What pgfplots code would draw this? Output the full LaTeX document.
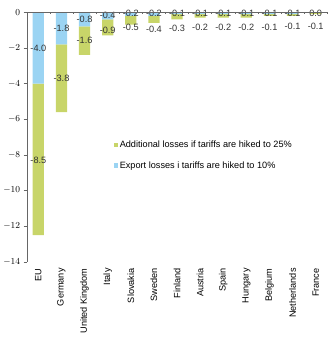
\documentclass[border=0pt]{standalone}
\usepackage{pgfplots}
\pgfplotsset{compat=1.18}
\usepackage{fontspec}
\setmainfont{Liberation Sans}
\definecolor{cblue}{RGB}{155,212,243}
\definecolor{cgreen}{RGB}{200,213,105}
\definecolor{ctext}{RGB}{50,50,50}
\tikzset{lbl/.style={font=\fontsize{9}{10}\selectfont, text=ctext, inner sep=0pt}}
\begin{document}
\begin{tikzpicture}
\begin{axis}[
  set layers,
  scale only axis, width=295pt, height=245pt,
  ybar stacked, bar width=11pt,
  xmin=-0.5, xmax=12.5, ymin=-14, ymax=0,
  xtick={0,1,2,3,4,5,6,7,8,9,10,11,12},
  xticklabels={EU,Germany,United Kingdom,Italy,Slovakia,Sweden,Finland,Austria,Spain,Hungary,Belgium,Netherlands,France},
  xticklabel style={rotate=90, anchor=east, font=\fontsize{9}{10}\selectfont},
  axis y line*=left,
  axis x line*=bottom,
  x axis line style={draw=none},
  y axis line style={gray!80!black},
  x tick style={draw=none},
  y tick style={gray!80!black},
  ytick={0,-2,-4,-6,-8,-10,-12,-14},
  tick align=outside,
  major tick length=3pt,
  yticklabel style={font=\fontsize{9}{10}\selectfont},
  legend style={draw=none, fill=none, at={(axis cs:3.25,-7.1)}, anchor=north west,
     font=\fontsize{9}{10}\selectfont, row sep=8pt, inner sep=0pt},
  legend cell align=left,
  reverse legend,
  clip=false,
]
\addplot[on layer=axis background, fill=cblue, draw=none, legend image code/.code={\fill[cblue] (0pt,-2pt) rectangle (4pt,2pt);}] coordinates {(0,-4.0) (1,-1.8) (2,-0.8) (3,-0.4) (4,-0.2) (5,-0.2) (6,-0.1) (7,-0.1) (8,-0.1) (9,-0.1) (10,-0.1) (11,-0.1) (12,0.0)};
\addlegendentry{Export losses i tariffs are hiked to 10\%}
\addplot[on layer=axis background, fill=cgreen, draw=none, legend image code/.code={\fill[cgreen] (0pt,-2pt) rectangle (4pt,2pt);}] coordinates {(0,-8.5) (1,-3.8) (2,-1.6) (3,-0.9) (4,-0.5) (5,-0.4) (6,-0.3) (7,-0.2) (8,-0.2) (9,-0.2) (10,-0.1) (11,-0.1) (12,-0.1)};
\addlegendentry{Additional losses if tariffs are hiked to 25\%}
\path (rel axis cs:0,1) ++(0pt,12pt);
\path (rel axis cs:1,1) ++(6pt,0pt);
\draw[gray!80!black] (axis cs:-0.5,0) -- (axis cs:12.5,0);
\draw[gray!80!black] (axis cs:0.5,0) -- +(0pt,-2pt) (axis cs:1.5,0) -- +(0pt,-2pt) (axis cs:2.5,0) -- +(0pt,-2pt) (axis cs:3.5,0) -- +(0pt,-2pt) (axis cs:4.5,0) -- +(0pt,-2pt) (axis cs:5.5,0) -- +(0pt,-2pt) (axis cs:6.5,0) -- +(0pt,-2pt) (axis cs:7.5,0) -- +(0pt,-2pt) (axis cs:8.5,0) -- +(0pt,-2pt) (axis cs:9.5,0) -- +(0pt,-2pt) (axis cs:10.5,0) -- +(0pt,-2pt) (axis cs:11.5,0) -- +(0pt,-2pt) (axis cs:12.5,0) -- +(0pt,-2pt);
\node[lbl] at (axis cs:0,-2.0) {-4.0};
\node[lbl] at (axis cs:1,-0.9) {-1.8};
\node[lbl] at (axis cs:2,-0.4) {-0.8};
\node[lbl] at (axis cs:3,-0.17) {-0.4};
\node[lbl] at (axis cs:4,-0.07) {-0.2};
\node[lbl] at (axis cs:5,-0.07) {-0.2};
\node[lbl] at (axis cs:6,-0.04) {-0.1};
\node[lbl] at (axis cs:7,-0.04) {-0.1};
\node[lbl] at (axis cs:8,-0.04) {-0.1};
\node[lbl] at (axis cs:9,-0.04) {-0.1};
\node[lbl] at (axis cs:10,-0.04) {-0.1};
\node[lbl] at (axis cs:11,-0.04) {-0.1};
\node[lbl] at (axis cs:12,-0.04) {0.0};
\node[lbl] at (axis cs:0,-8.3) {-8.5};
\node[lbl] at (axis cs:1,-3.7) {-3.8};
\node[lbl] at (axis cs:2,-1.6) {-1.6};
\node[lbl] at (axis cs:3,-1.0) {-0.9};
\node[lbl] at (axis cs:4,-0.85) {-0.5};
\node[lbl] at (axis cs:5,-0.95) {-0.4};
\node[lbl] at (axis cs:6,-0.93) {-0.3};
\node[lbl] at (axis cs:7,-0.87) {-0.2};
\node[lbl] at (axis cs:8,-0.87) {-0.2};
\node[lbl] at (axis cs:9,-0.85) {-0.2};
\node[lbl] at (axis cs:10,-0.85) {-0.1};
\node[lbl] at (axis cs:11,-0.78) {-0.1};
\node[lbl] at (axis cs:12,-0.78) {-0.1};
\end{axis}
\end{tikzpicture}
\end{document}
